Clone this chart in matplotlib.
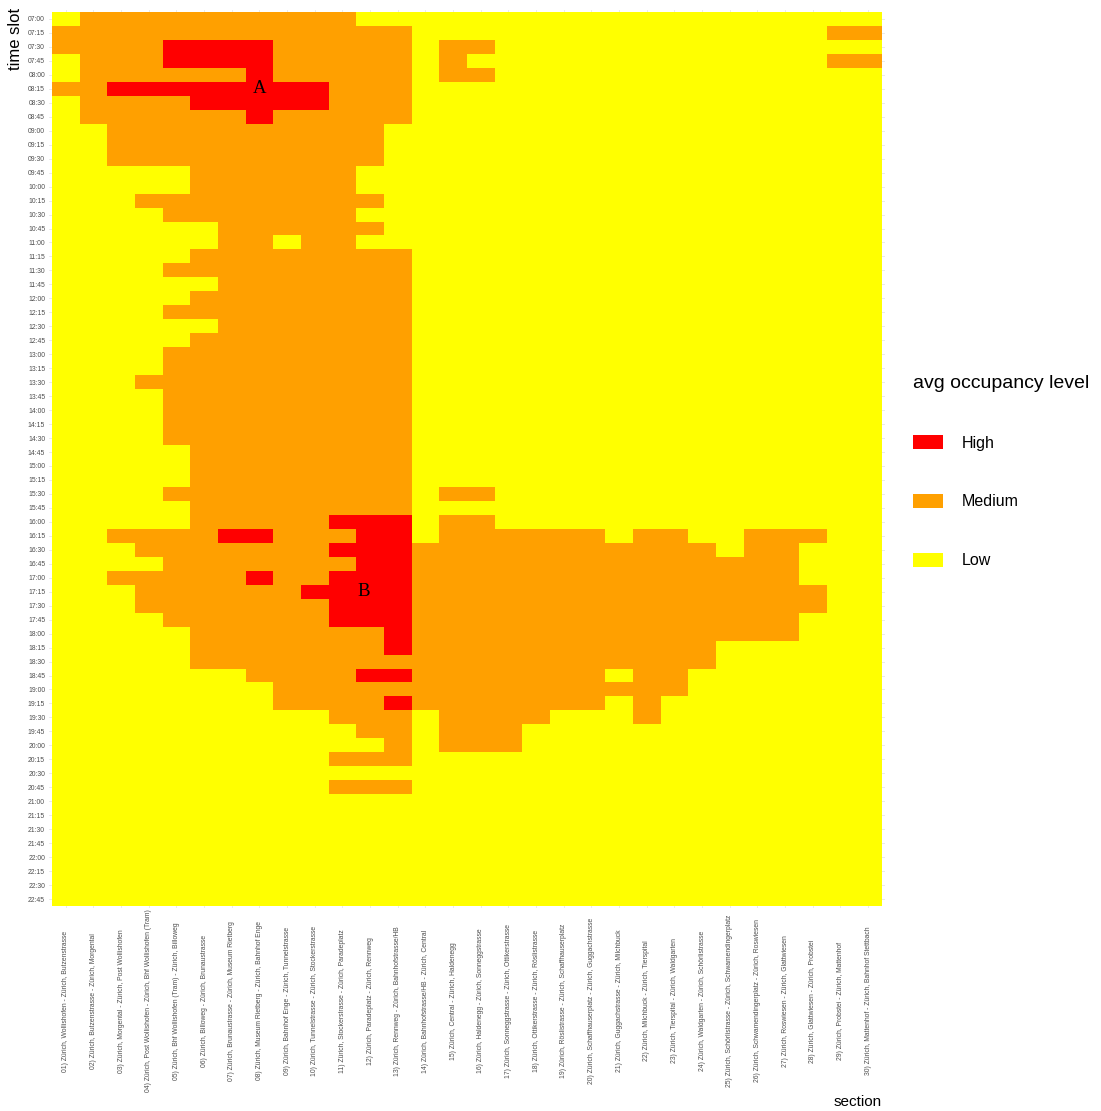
import matplotlib
matplotlib.use("Agg")
import matplotlib.pyplot as plt
import numpy as np
from matplotlib.colors import ListedColormap
from matplotlib.patches import Patch
from matplotlib.transforms import blended_transform_factory

plt.rcParams['font.family'] = ['Liberation Sans', 'DejaVu Sans']

sections = [
    "01) Zürich, Wollishofen - Zürich, Butzenstrasse",
    "02) Zürich, Butzenstrasse - Zürich, Morgental",
    "03) Zürich, Morgental - Zürich, Post Wollishofen",
    "04) Zürich, Post Wollishofen - Zürich, Bhf Wollishofen (Tram)",
    "05) Zürich, Bhf Wollishofen (Tram) - Zürich, Billoweg",
    "06) Zürich, Billoweg - Zürich, Brunaustrasse",
    "07) Zürich, Brunaustrasse - Zürich, Museum Rietberg",
    "08) Zürich, Museum Rietberg - Zürich, Bahnhof Enge",
    "09) Zürich, Bahnhof Enge - Zürich, Tunnelstrasse",
    "10) Zürich, Tunnelstrasse - Zürich, Stockerstrasse",
    "11) Zürich, Stockerstrasse - Zürich, Paradeplatz",
    "12) Zürich, Paradeplatz - Zürich, Rennweg",
    "13) Zürich, Rennweg - Zürich, Bahnhofstrasse/HB",
    "14) Zürich, Bahnhofstrasse/HB - Zürich, Central",
    "15) Zürich, Central - Zürich, Haldenegg",
    "16) Zürich, Haldenegg - Zürich, Sonneggstrasse",
    "17) Zürich, Sonneggstrasse - Zürich, Ottikerstrasse",
    "18) Zürich, Ottikerstrasse - Zürich, Röslistrasse",
    "19) Zürich, Röslistrasse - Zürich, Schaffhauserplatz",
    "20) Zürich, Schaffhauserplatz - Zürich, Guggachstrasse",
    "21) Zürich, Guggachstrasse - Zürich, Milchbuck",
    "22) Zürich, Milchbuck - Zürich, Tierspital",
    "23) Zürich, Tierspital - Zürich, Waldgarten",
    "24) Zürich, Waldgarten - Zürich, Schörlistrasse",
    "25) Zürich, Schörlistrasse - Zürich, Schwamendingerplatz",
    "26) Zürich, Schwamendingerplatz - Zürich, Roswiesen",
    "27) Zürich, Roswiesen - Zürich, Glattwiesen",
    "28) Zürich, Glattwiesen - Zürich, Probstei",
    "29) Zürich, Probstei - Zürich, Mattenhof",
    "30) Zürich, Mattenhof - Zürich, Bahnhof Stettbach",
]

time_slots = [
    "07:00", "07:15", "07:30", "07:45", "08:00", "08:15", "08:30", "08:45",
    "09:00", "09:15", "09:30", "09:45", "10:00", "10:15", "10:30", "10:45",
    "11:00", "11:15", "11:30", "11:45", "12:00", "12:15", "12:30", "12:45",
    "13:00", "13:15", "13:30", "13:45", "14:00", "14:15", "14:30", "14:45",
    "15:00", "15:15", "15:30", "15:45", "16:00", "16:15", "16:30", "16:45",
    "17:00", "17:15", "17:30", "17:45", "18:00", "18:15", "18:30", "18:45",
    "19:00", "19:15", "19:30", "19:45", "20:00", "20:15", "20:30", "20:45",
    "21:00", "21:15", "21:30", "21:45", "22:00", "22:15", "22:30", "22:45",
]

levels = ["Low", "Medium", "High"]
level_colors = ["#FFFF00", "#FFA000", "#FF0000"]

# one string per time slot, one digit per section: 0 = Low, 1 = Medium, 2 = High
occupancy = [
    "011111111110000000000000000000",  # 07:00
    "111111111111100000000000000011",
    "111122221111101100000000000000",
    "011122221111101000000000000011",
    "011111121111101100000000000000",  # 08:00
    "112222222211100000000000000000",
    "011112222211100000000000000000",
    "011111121111100000000000000000",
    "001111111111000000000000000000",  # 09:00
    "001111111111000000000000000000",
    "001111111111000000000000000000",
    "000001111110000000000000000000",
    "000001111110000000000000000000",  # 10:00
    "000111111111000000000000000000",
    "000011111110000000000000000000",
    "000000111111000000000000000000",
    "000000110110000000000000000000",  # 11:00
    "000001111111100000000000000000",
    "000011111111100000000000000000",
    "000000111111100000000000000000",
    "000001111111100000000000000000",  # 12:00
    "000011111111100000000000000000",
    "000000111111100000000000000000",
    "000001111111100000000000000000",
    "000011111111100000000000000000",  # 13:00
    "000011111111100000000000000000",
    "000111111111100000000000000000",
    "000011111111100000000000000000",
    "000011111111100000000000000000",  # 14:00
    "000011111111100000000000000000",
    "000011111111100000000000000000",
    "000001111111100000000000000000",
    "000001111111100000000000000000",  # 15:00
    "000001111111100000000000000000",
    "000011111111101100000000000000",
    "000001111111100000000000000000",
    "000001111122201100000000000000",  # 16:00
    "001111221112201111110110011100",
    "000111111122211111111111011000",
    "000011111112211111111111111000",
    "001111121122211111111111111000",  # 17:00
    "000111111222211111111111111100",
    "000111111122211111111111111100",
    "000011111122211111111111111000",
    "000001111111211111111111111000",  # 18:00
    "000001111111211111111111000000",
    "000001111111111111111111000000",
    "000000011112211111110110000000",
    "000000001111111111111110000000",  # 19:00
    "000000001111211111110100000000",
    "000000000011101111000100000000",
    "000000000001101110000000000000",
    "000000000000101110000000000000",  # 20:00
    "000000000011100000000000000000",
    "000000000000000000000000000000",
    "000000000011100000000000000000",
    "000000000000000000000000000000",  # 21:00
    "000000000000000000000000000000",
    "000000000000000000000000000000",
    "000000000000000000000000000000",
    "000000000000000000000000000000",  # 22:00
    "000000000000000000000000000000",
    "000000000000000000000000000000",
    "000000000000000000000000000000",
]

# labels drawn on the heatmap: (text, section index, time slot index)
annotations = [("A", 7, 5), ("B", 10.75, 41)]

grid = np.array([[int(c) for c in row] for row in occupancy])

W, H = 1101, 1111
fig = plt.figure(figsize=(W / 100, H / 100), dpi=100)

# tile area in pixels, with a small panel expansion around it
x0, x1, y0, y1 = 52, 882, 12, 906
cw = (x1 - x0) / len(sections)
rh = (y1 - y0) / len(time_slots)
ex, ey = 0.1, 0.15
ax = fig.add_axes([(x0 - ex * cw) / W, 1 - (y1 + ey * rh) / H,
                   (x1 - x0 + 2 * ex * cw) / W, (y1 - y0 + 2 * ey * rh) / H])

ax.imshow(grid, cmap=ListedColormap(level_colors), vmin=0, vmax=2,
          aspect='auto', interpolation='nearest', zorder=2)
ax.set_xlim(-0.5 - ex, len(sections) - 0.5 + ex)
ax.set_ylim(len(time_slots) - 0.5 + ey, -0.5 - ey)

ax.set_xticks(range(len(sections)))
ax.set_xticklabels([])
ax.set_yticks(range(len(time_slots)))
ax.set_yticklabels(time_slots, fontsize=4.9, color='#4d4d4d')
ax.tick_params(length=0, pad=3)
ax.grid(True, color='#e6e6e6', lw=0.6, zorder=0)
for s in ax.spines.values():
    s.set_visible(False)

trans = blended_transform_factory(ax.transData, fig.transFigure)
for j, name in enumerate(sections):
    ax.text(j, 1 - 1001 / H, name, transform=trans, rotation=90,
            ha='center', va='center', fontsize=4.9, color='#4d4d4d')

for txt, xj, yi in annotations:
    ax.text(xj, yi, txt, ha='center', va='center', fontsize=13.5,
            family='Liberation Serif', color='black', zorder=3)

fig.text(15 / W, 1 - 8 / H, "time slot", rotation=90, ha='center', va='top',
         fontsize=12, color='black')
fig.text(x1 / W, 1 - 1102 / H, "section", ha='right', va='center',
         fontsize=11, color='black')

handles = [Patch(facecolor=level_colors[i], edgecolor='none', label=levels[i])
           for i in [2, 1, 0]]
leg = fig.legend(handles=handles, title="avg occupancy level",
                 loc='upper left', bbox_to_anchor=(913 / W, 1 - 375 / H),
                 frameon=False, fontsize=11.5, title_fontsize=14,
                 handlelength=1.875, handleheight=1.0, handletextpad=1.2,
                 labelspacing=2.7, borderpad=0, borderaxespad=0,
                 alignment='left')

fig.savefig("out.png", dpi=100)
